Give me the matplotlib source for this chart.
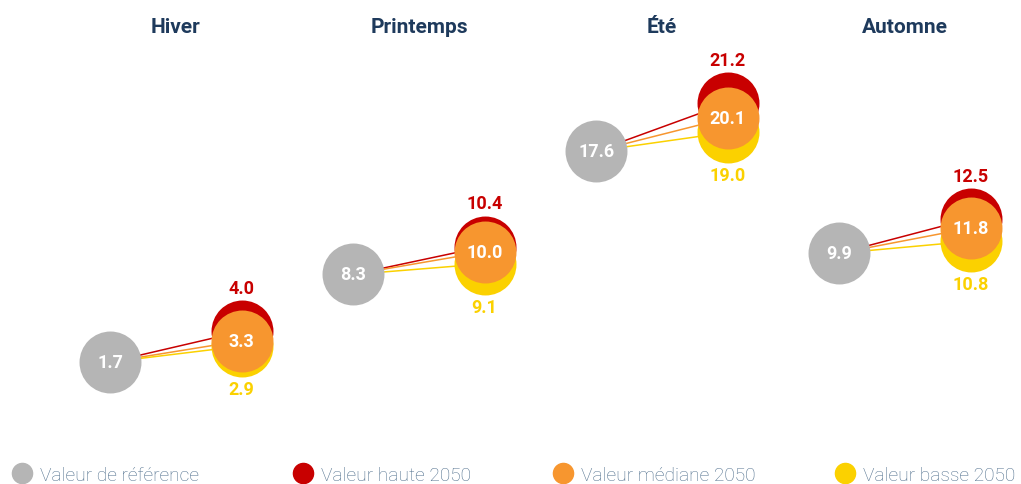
import numpy as np
import matplotlib.pyplot as plt
from matplotlib.lines import Line2D

plt.rcParams['font.family'] = ['Roboto', 'DejaVu Sans']

# data
seasons = ['Hiver', 'Printemps', 'Été', 'Automne']
ref_vals = [1.7, 8.3, 17.6, 9.9]
high_vals = [4.0, 10.4, 21.2, 12.5]
med_vals = [3.3, 10.0, 20.1, 11.8]
low_vals = [2.9, 9.1, 19.0, 10.8]
legend_labels = ['Valeur de référence', 'Valeur haute 2050', 'Valeur médiane 2050', 'Valeur basse 2050']

c_ref = '#b5b5b5'
c_high = '#c80000'
c_med = '#f7962f'
c_low = '#fbd100'
c_title = '#1e3a5c'
c_leg = '#4e6e8c'

fig = plt.figure(figsize=(10.21, 4.85), dpi=100)
ax = fig.add_axes([0, 0, 1, 1])
ax.set_xlim(-0.724, 3.477)
ax.set_ylim(-7.49, 29.05)
ax.axis('off')

x = np.arange(len(seasons))
x_ref = x - 0.27
x_fut = x + 0.27
size = 1990

for i in range(len(seasons)):
    for v, c in [(high_vals[i], c_high), (med_vals[i], c_med), (low_vals[i], c_low)]:
        ax.plot([x_ref[i], x_fut[i]], [ref_vals[i], v], color=c, lw=1.1, zorder=1)

ax.scatter(x_ref, ref_vals, s=size, color=c_ref, lw=0, zorder=3)
ax.scatter(x_fut, high_vals, s=size, color=c_high, lw=0, zorder=3)
ax.scatter(x_fut, low_vals, s=size, color=c_low, lw=0, zorder=4)
ax.scatter(x_fut, med_vals, s=size, color=c_med, lw=0, zorder=5)

for i, s in enumerate(seasons):
    ax.text(x[i], 27.0, s, ha='center', va='center', fontsize=15,
            fontweight='bold', color=c_title)
    ax.text(x_ref[i], ref_vals[i], f'{ref_vals[i]:.1f}', ha='center', va='center',
            fontsize=13, fontweight='bold', color='white', zorder=6)
    ax.text(x_fut[i], med_vals[i], f'{med_vals[i]:.1f}', ha='center', va='center',
            fontsize=13, fontweight='bold', color='white', zorder=6)
    ax.annotate(f'{high_vals[i]:.1f}', (x_fut[i], high_vals[i]), xytext=(0, 31),
                textcoords='offset points', ha='center', va='center',
                fontsize=13, fontweight='bold', color=c_high)
    ax.annotate(f'{low_vals[i]:.1f}', (x_fut[i], low_vals[i]), xytext=(0, -31),
                textcoords='offset points', ha='center', va='center',
                fontsize=13, fontweight='bold', color=c_low)

# one legend per entry so each sits where the reference has it
leg_x = [0.012, 0.2873, 0.5419, 0.8181]
for lx, lab, c in zip(leg_x, legend_labels, [c_ref, c_high, c_med, c_low]):
    h = Line2D([], [], ls='', marker='o', ms=14.5, mfc=c, mec=c)
    leg = fig.legend([h], [lab], loc='center left', bbox_to_anchor=(lx, 0.019),
                     frameon=False, fontsize=13.8, handletextpad=0.45,
                     handlelength=1.0, borderaxespad=0, borderpad=0)
    for t in leg.get_texts():
        t.set_color(c_leg)
        t.set_fontweight('light')

fig.savefig('out.png', dpi=100)
